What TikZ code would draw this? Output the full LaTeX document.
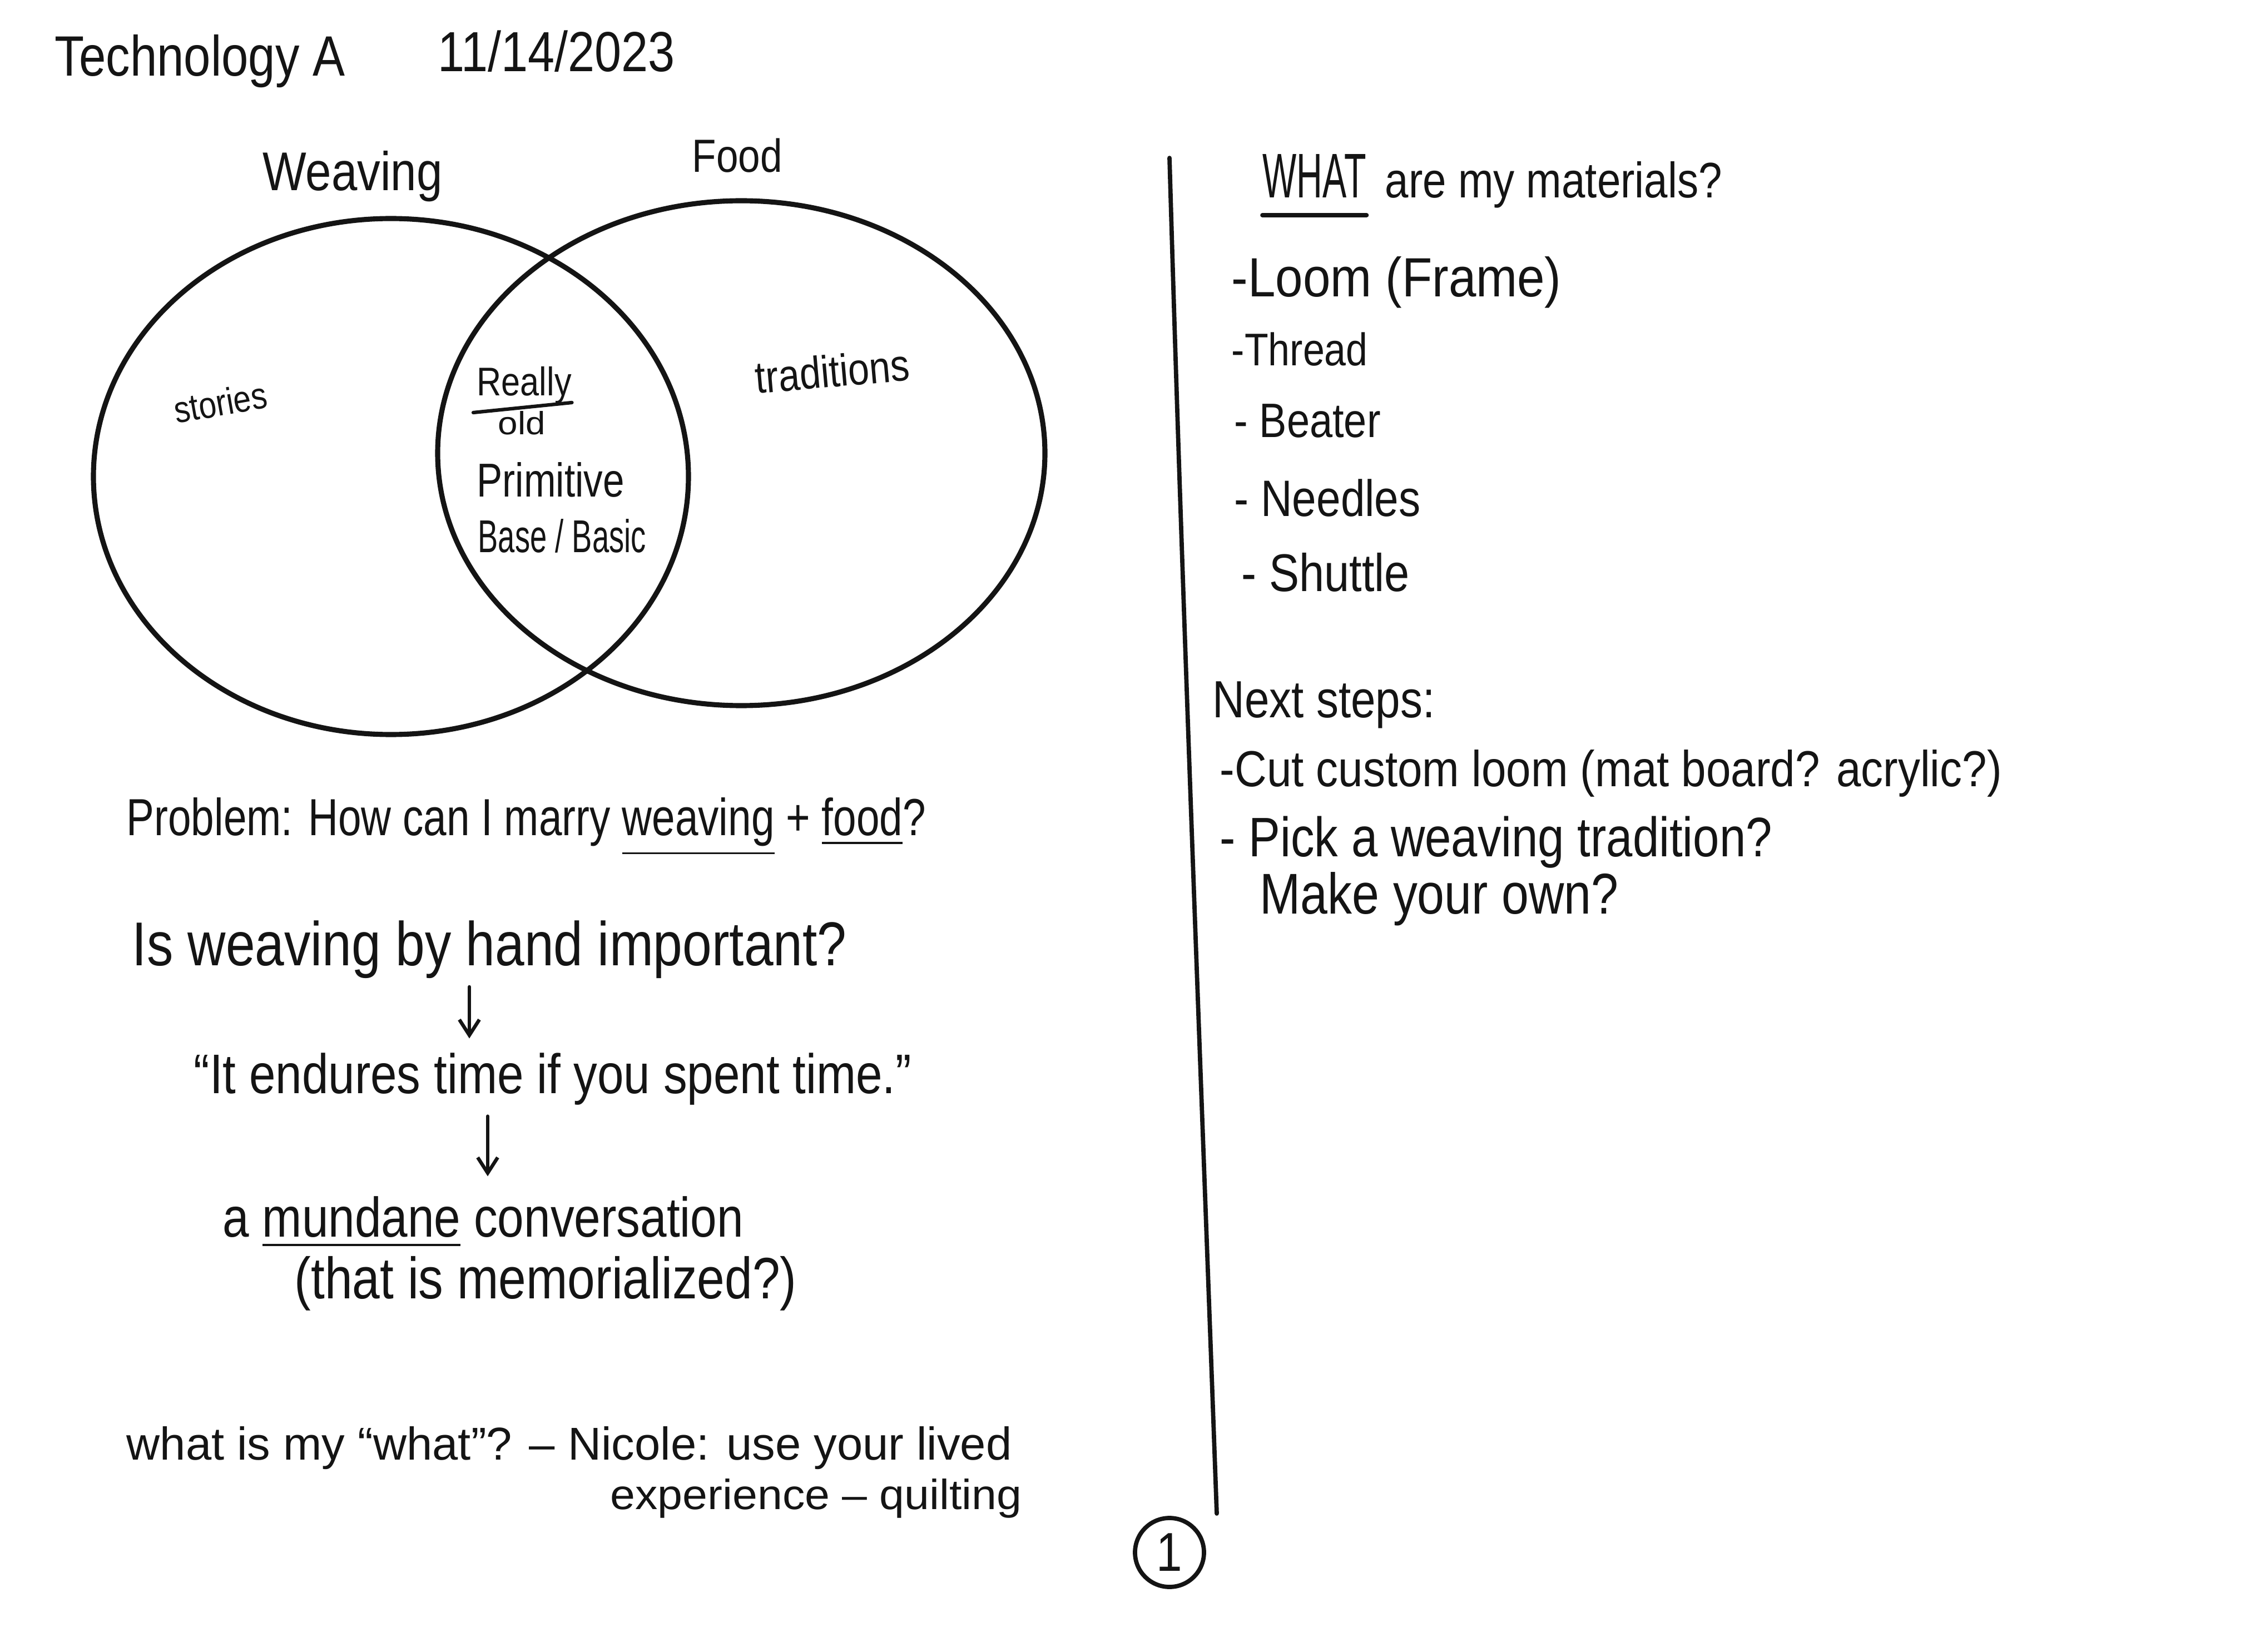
\documentclass[tikz,border=0pt]{standalone}
\usepackage{fontspec}
\usepackage{graphicx}
\setmainfont{Liberation Sans}[FakeStretch=0.85]
\usetikzlibrary{arrows.meta}
\definecolor{ink}{HTML}{141414}
\newcommand\hw[3][!]{\resizebox{#2cm}{#1}{#3}}
\tikzset{
  txt/.style={anchor=base west, inner sep=0pt, text=ink},
  pen/.style={draw=ink, line width=2.6pt, line cap=round},
  arr/.style={draw=ink, line width=1.8pt, line cap=round, -{Straight Barb[length=0.28cm,width=0.36cm]}},
}
\begin{document}
\begin{tikzpicture}
\fill[white] (0,0) rectangle (40.46,-29.71);
\useasboundingbox (0,0) rectangle (40.46,-29.71);

% header
\node[txt] (title) at (0.98,-1.37) {\hw{5.22}{Technology A}};
\node[txt] (date) at (7.87,-1.29) {\hw{4.26}{11/14/2023}};

% Venn diagram
\node[txt] (weav) at (4.72,-3.43) {\hw{3.23}{Weaving}};
\node[txt] (food) at (12.44,-3.10) {\hw{1.62}{Food}};
\draw[pen] (7.03,-8.57) ellipse [x radius=5.35, y radius=4.64];
\draw[pen] (13.33,-8.15) ellipse [x radius=5.46, y radius=4.54];
\node[txt, rotate=10] (stories) at (3.17,-7.62) {\hw{1.68}{stories}};
\node[txt] (really) at (8.57,-7.12) {\hw{1.70}{Really}};
\draw[pen, line width=1.8pt] ([xshift=-0.06cm,yshift=-0.30cm]really.base west) -- ([xshift=0.0cm,yshift=-0.12cm]really.base east);
\node[txt] (old) at (8.95,-7.82) {\hw[0.42cm]{0.85}{old}};
\node[txt] (prim) at (8.57,-8.93) {\hw[0.62cm]{2.65}{Primitive}};
\node[txt] (base) at (8.59,-9.93) {\hw[0.6cm]{3.02}{Base / Basic}};
\node[txt, rotate=5] (trad) at (13.60,-7.08) {\hw{2.78}{traditions}};

% left column
\node[txt] (prob) at (2.27,-15.02) {\hw[0.68cm]{14.37}{Problem: How can I marry \underline{weaving} + \underline{food}?}};
\node[txt] (q1) at (2.37,-17.36) {\hw{12.85}{Is weaving by hand important?}};
\node[txt] (q2) at (3.48,-19.66) {\hw{12.90}{“It endures time if you spent time.”}};
\node[txt] (q3) at (4.00,-22.24) {\hw{9.36}{a \underline{mundane} conversation}};
\node[txt] (q4) at (5.29,-23.35) {\hw{9.03}{(that is memorialized?)}};
\node[txt] (w1) at (2.27,-26.25) {\hw[0.6cm]{15.92}{what is my “what”? – Nicole: use your lived}};
\node[txt] (w2) at (10.97,-27.14) {\hw[0.55cm]{7.40}{experience – quilting}};

\coordinate (a1x) at (8.44,0);
\coordinate (a2x) at (8.77,0);
\draw[arr] ([yshift=-0.15cm]q1.south -| a1x) -- ([yshift=0.25cm]q2.north -| a1x);
\draw[arr] ([yshift=-0.2cm]q2.south -| a2x) -- ([yshift=0.35cm]q3.north -| a2x);

% divider and page number
\coordinate (vtop) at (21.03,-2.84);
\coordinate (vbot) at (21.88,-27.22);
\draw[pen, line width=2.2pt] (vtop) .. controls (21.25,-10.5) and (21.60,-19.5) .. (vbot);
\node[draw=ink, line width=2.2pt, circle, minimum size=1.24cm, inner sep=0pt, text=ink] (pg) at (21.03,-27.92) {\fontsize{28}{28}\selectfont 1};

% right column
\node[txt] (what) at (22.70,-3.56) {\hw[0.78cm]{1.86}{WHAT}};
\node[txt] (mat) at (24.90,-3.56) {\hw{6.06}{are my materials?}};
\draw[pen, line width=2.2pt] ([yshift=-0.31cm]what.base west) -- ([yshift=-0.31cm]what.base east);
\node[txt] (loom) at (22.14,-5.34) {\hw[0.72cm]{5.93}{-Loom (Frame)}};
\node[txt] (thread) at (22.14,-6.58) {\hw{2.45}{-Thread}};
\node[txt] (beater) at (22.19,-7.87) {\hw{2.63}{- Beater}};
\node[txt] (needles) at (22.19,-9.29) {\hw{3.35}{- Needles}};
\node[txt] (shuttle) at (22.32,-10.63) {\hw{3.02}{- Shuttle}};
\node[txt] (next) at (21.80,-12.90) {\hw{4.00}{Next steps:}};
\node[txt] (cut) at (21.93,-14.14) {\hw[0.66cm]{14.06}{-Cut custom loom (mat board? acrylic?)}};
\node[txt] (pick) at (21.93,-15.40) {\hw{9.93}{- Pick a weaving tradition?}};
\node[txt] (make) at (22.65,-16.43) {\hw{6.45}{Make your own?}};
\end{tikzpicture}
\end{document}
